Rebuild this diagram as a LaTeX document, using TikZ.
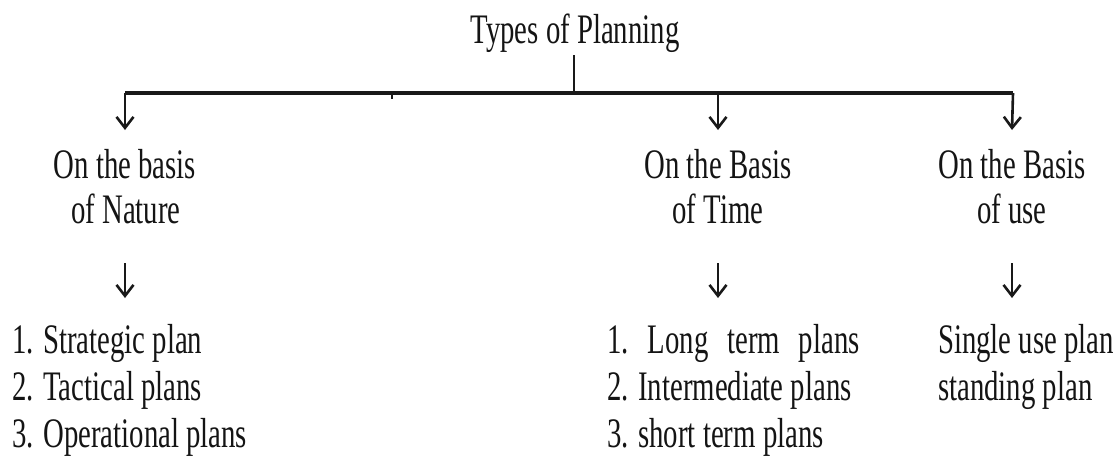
\documentclass[tikz,border=0pt]{standalone}
\usepackage{fontspec}
\setmainfont{Liberation Serif}[FakeStretch=0.685]
\usetikzlibrary{arrows.meta}
\newcommand\planfont{\fontsize{42pt}{46pt}\selectfont}
\begin{document}
\begin{tikzpicture}[x=1pt,y=1pt,
  txt/.style={font=\planfont, inner sep=0pt, text=black!92},
  bar/.style={line width=3.6pt, draw=black!90},
  stem/.style={line width=2.8pt, draw=black!90},
  arr/.style={line width=2.6pt, draw=black!90,
    -{Straight Barb[length=11pt,width=17pt]}},
]
\useasboundingbox (0,0) rectangle (1116,-461);

% title and the main bar
\node[txt, anchor=base] (title) at (575,-43) {Types of Planning};
\coordinate (stemtop) at (574,-55);
\coordinate (hub) at (574,-93);
\coordinate (barL) at (125,-93);
\coordinate (barT) at (718,-93);
\coordinate (barR) at (1013,-93);
\coordinate (tick) at (392,-99);
\draw[stem] (stemtop) -- (hub);
\draw[bar] (barL) -- (barR);
\draw[stem] (tick |- hub) -- (tick);

% branch arrows
\coordinate (tipN) at (125,-130);
\coordinate (tipT) at (718,-130);
\coordinate (tipU) at (1012,-130);
\draw[arr] (barL) -- (tipN);
\draw[arr] (barT) -- (tipT);
\draw[arr] (barR) -- (tipU);

% category headings
\node[txt, anchor=base] (nat1) at (125,-178) {On the basis};
\node[txt, anchor=base] (nat2) at (126,-223) {of Nature};
\node[txt, anchor=base] (tim1) at (718,-178) {On the Basis};
\node[txt, anchor=base] (tim2) at (718,-223) {of Time};
\node[txt, anchor=base] (use1) at (1012,-178) {On the Basis};
\node[txt, anchor=base] (use2) at (1012,-223) {of use};

% arrows down to the lists
\coordinate (natA) at (125,-263);
\coordinate (natB) at (125,-298);
\coordinate (timA) at (718,-263);
\coordinate (timB) at (718,-298);
\coordinate (useA) at (1012,-263);
\coordinate (useB) at (1012,-298);
\draw[arr] (natA) -- (natB);
\draw[arr] (timA) -- (timB);
\draw[arr] (useA) -- (useB);

% lists of plans
\node[txt, anchor=base west] (n1) at (12,-353) {1. Strategic plan};
\node[txt, anchor=base west] (n2) at (12,-400) {2. Tactical plans};
\node[txt, anchor=base west] (n3) at (12,-447) {3. Operational plans};
\node[txt, anchor=base west] (t1) at (607,-353) {1.\hspace{0.45em}Long\hspace{0.45em}term\hspace{0.45em}plans};
\node[txt, anchor=base west] (t2) at (607,-400) {2. Intermediate plans};
\node[txt, anchor=base west] (t3) at (607,-447) {3. short term plans};
\node[txt, anchor=base west] (u1) at (938,-353) {Single use plan};
\node[txt, anchor=base west] (u2) at (938,-400) {standing plan};
\end{tikzpicture}
\end{document}
